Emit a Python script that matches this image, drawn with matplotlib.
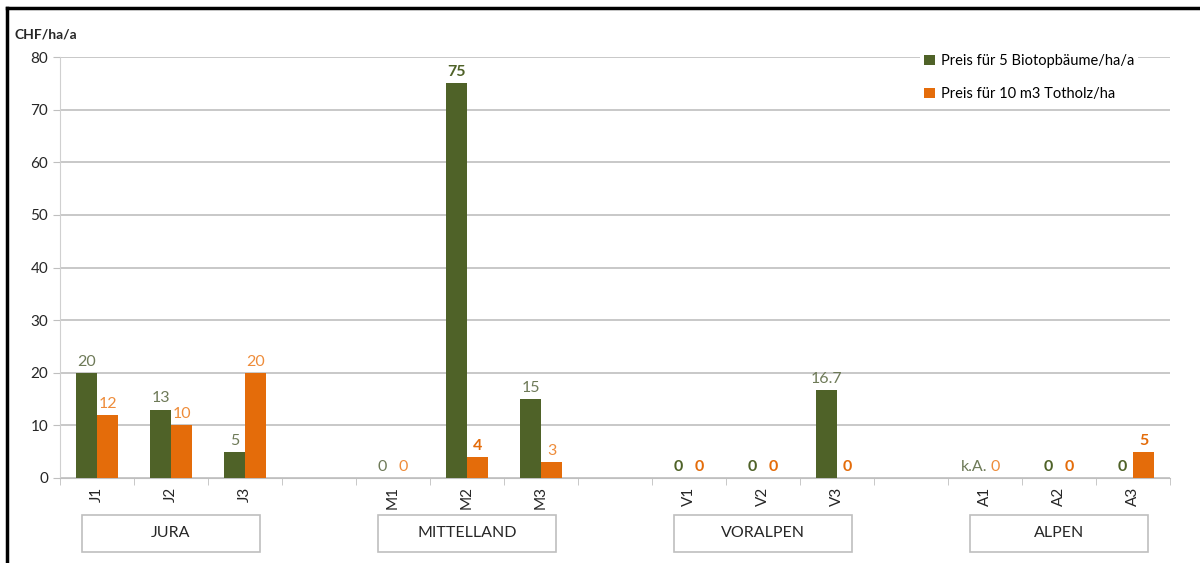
import numpy as np
import matplotlib
matplotlib.use("Agg")
import matplotlib.pyplot as plt
from matplotlib.patches import Rectangle
import matplotlib.transforms as mtransforms

plt.rcParams['font.family'] = ['Lato', 'DejaVu Sans']

# ---------------- data ----------------
groups = ["JURA", "MITTELLAND", "VORALPEN", "ALPEN"]
categories = ["J1", "J2", "J3", "M1", "M2", "M3", "V1", "V2", "V3", "A1", "A2", "A3"]
biotop = [20, 13, 5, 0, 75, 15, 0, 0, 16.7, np.nan, 0, 0]
totholz = [12, 10, 20, 0, 4, 3, 0, 0, 0, 0, 0, 5]
biotop_labels = ["20", "13", "5", "0", "75", "15", "0", "0", "16.7", "k.A.", "0", "0"]
totholz_labels = ["12", "10", "20", "0", "4", "3", "0", "0", "0", "0", "0", "5"]
series_names = ["Preis für 5 Biotopbäume/ha/a", "Preis für 10 m3 Totholz/ha"]
y_ticks = [0, 10, 20, 30, 40, 50, 60, 70, 80]
y_unit = "CHF/ha/a"

# styles (bold emphasis of labels)
biotop_bold = [False, False, False, False, True, False, True, True, False, False, True, True]
totholz_bold = [False, False, False, False, True, False, True, True, True, False, True, True]

GREEN = "#4F6228"
ORANGE = "#E46C0A"
GREEN_LIGHT = "#6E7A58"
ORANGE_LIGHT = "#EE8C3A"

per_group = 3
# slot positions: 3 categories per group, one empty slot between groups
pos = []
for gi in range(len(groups)):
    for k in range(per_group):
        pos.append(gi * (per_group + 1) + k)
pos = np.array(pos, dtype=float)
nslots = len(groups) * (per_group + 1) - 1

fig = plt.figure(figsize=(12, 5.63), dpi=100)
ax = fig.add_axes([0.05, 0.151, 0.925, 0.7477])

bw = 0.285
b1 = ax.bar(pos - bw / 2, np.nan_to_num(biotop), width=bw, color=GREEN, zorder=3)
b2 = ax.bar(pos + bw / 2, totholz, width=bw, color=ORANGE, zorder=3)

ax.set_xlim(-0.5, nslots - 0.5)
ax.set_ylim(0, 80)
ax.set_yticks(y_ticks)
ax.yaxis.grid(True, color="#BFBFBF", linewidth=1.2, zorder=0)
ax.set_axisbelow(True)
for s in ["top", "right"]:
    ax.spines[s].set_visible(False)
ax.spines["left"].set_color("#D0D0D0")
ax.spines["bottom"].set_color("#BFBFBF")
ax.tick_params(axis="y", colors="#BFBFBF", labelcolor="#262626", labelsize=11, length=5)

ax.set_xticks(pos)
ax.set_xticklabels(categories, rotation=90, fontsize=11, color="#262626")
ax.tick_params(axis="x", length=0, pad=6)
ax.set_xticks(np.arange(-0.5, nslots, 1.0), minor=True)
ax.tick_params(axis="x", which="minor", length=5, color="#BFBFBF")

# data labels
for x, v, lab, bold in zip(pos - bw / 2, np.nan_to_num(biotop), biotop_labels, biotop_bold):
    ax.annotate(lab, (x, v), xytext=(0, 3), textcoords="offset points",
                ha="center", va="bottom", fontsize=11.5,
                color=GREEN if bold else GREEN_LIGHT,
                fontweight="bold" if bold else "normal", zorder=5)
for x, v, lab, bold in zip(pos + bw / 2, totholz, totholz_labels, totholz_bold):
    ax.annotate(lab, (x, v), xytext=(0, 3), textcoords="offset points",
                ha="center", va="bottom", fontsize=11.5,
                color=ORANGE if bold else ORANGE_LIGHT,
                fontweight="bold" if bold else "normal", zorder=5)

# group boxes
trans = mtransforms.blended_transform_factory(ax.transData, fig.transFigure)
for gi, g in enumerate(groups):
    cx = gi * (per_group + 1) + 1
    w = 2.4
    rect = Rectangle((cx - w / 2, 0.0195), w, 0.0658, transform=trans,
                     facecolor="white", edgecolor="#BFBFBF", linewidth=1.2,
                     clip_on=False, zorder=6)
    ax.add_patch(rect)
    ax.text(cx, 0.0195 + 0.0329, g, transform=trans, ha="center", va="center",
            fontsize=11.5, color="#262626", zorder=7, clip_on=False)

# unit label
fig.text(0.012, 0.928, y_unit, fontsize=10, fontweight="bold", color="#262626",
         ha="left", va="bottom")

# legend
leg = ax.legend([b1, b2], series_names, loc="upper right", bbox_to_anchor=(0.978, 1.035),
                frameon=True, fontsize=10.5, handlelength=0.7, handleheight=0.7,
                handletextpad=0.4, labelspacing=1.3, borderpad=0.3)
leg.get_frame().set_edgecolor("none")
leg.get_frame().set_facecolor("white")
leg.get_frame().set_alpha(1)

# outer frame (top and left)
fig.add_artist(plt.Line2D([0.006, 1.0], [0.986, 0.986], color="black", linewidth=2.5,
                          transform=fig.transFigure))
fig.add_artist(plt.Line2D([0.006, 0.006], [0.0, 0.986], color="black", linewidth=2.5,
                          transform=fig.transFigure))

fig.savefig("out.png", dpi=100)
